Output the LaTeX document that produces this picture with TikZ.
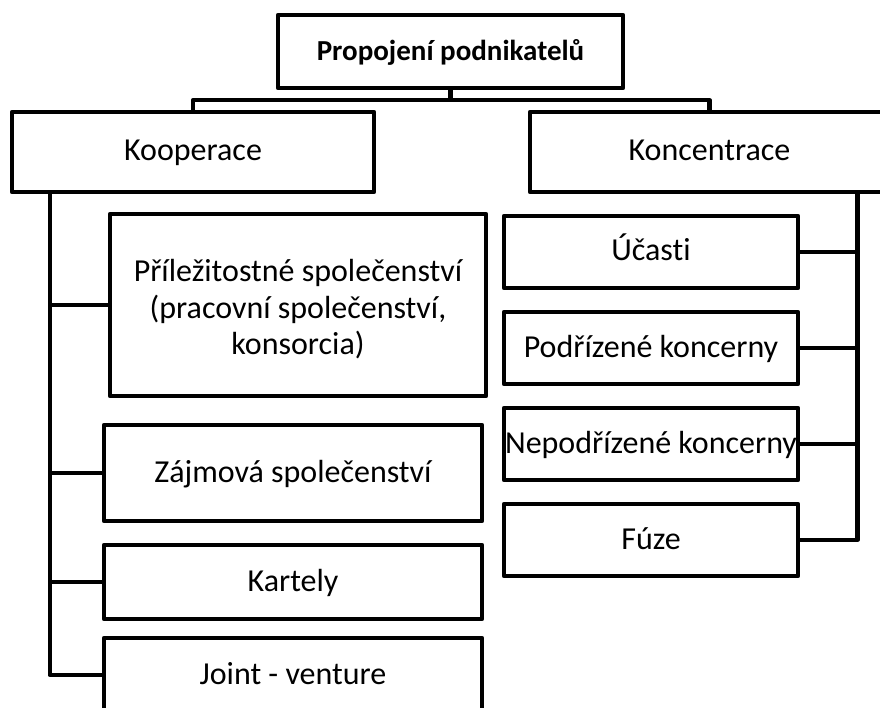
\documentclass[tikz,border=0pt]{standalone}
\usepackage{fontspec}
\setmainfont[Ligatures=NoCommon]{Carlito}
\begin{document}
\begin{tikzpicture}[x=1pt,y=-1pt,
  box/.style={draw=black,line width=4.5pt,line join=round,fill=white,inner sep=0pt,align=center,font=\fontsize{32}{36.5}\selectfont},
  one/.style={text height=25pt,text depth=7pt},
  link/.style={draw=black,line width=4.5pt,line join=round}]
\useasboundingbox (0,0) rectangle (880,708);
\clip (0,0) rectangle (880,708);
\node[box,one,minimum width=345pt,minimum height=73pt,font=\fontsize{29}{34}\selectfont\bfseries] (top) at (450.5,51.5) {Propojení podnikatelů};
\node[box,one,minimum width=362pt,minimum height=80pt] (koop) at (193,152) {Kooperace};
\node[box,one,minimum width=359pt,minimum height=80pt] (konc) at (709.5,152) {Koncentrace};
\node[box,minimum width=376pt,minimum height=182pt] (pril) at (298,305) {\rule{0pt}{31pt}Příležitostné společenství\\(pracovní společenství,\\konsorcia)};
\node[box,one,minimum width=378pt,minimum height=96pt] (zaj) at (293,473) {Zájmová společenství};
\node[box,one,minimum width=378pt,minimum height=74pt] (kart) at (293,582) {Kartely};
\node[box,one,minimum width=378pt,minimum height=74pt] (joint) at (293,675) {Joint - venture};
\node[box,one,minimum width=294pt,minimum height=72pt] (ucast) at (651,252) {Účasti};
\node[box,one,minimum width=294pt,minimum height=72pt] (podr) at (651,348) {Podřízené koncerny};
\node[box,one,minimum width=294pt,minimum height=72pt] (nepodr) at (651,444) {Nepodřízené koncerny};
\node[box,one,minimum width=294pt,minimum height=72pt] (fuze) at (651,540) {Fúze};
\draw[link] (top.south) -- ++(0,10) -| (koop.north);
\draw[link] (top.south) -- ++(0,10) -| (konc.north);
\draw[link] ([xshift=40pt]koop.south west) |- (pril.west);
\draw[link] ([xshift=40pt]koop.south west) |- (zaj.west);
\draw[link] ([xshift=40pt]koop.south west) |- (kart.west);
\draw[link] ([xshift=40pt]koop.south west) |- (joint.west);
\draw[link] ([xshift=-34pt]konc.south east) |- (ucast.east);
\draw[link] ([xshift=-34pt]konc.south east) |- (podr.east);
\draw[link] ([xshift=-34pt]konc.south east) |- (nepodr.east);
\draw[link] ([xshift=-34pt]konc.south east) |- (fuze.east);
\end{tikzpicture}
\end{document}
